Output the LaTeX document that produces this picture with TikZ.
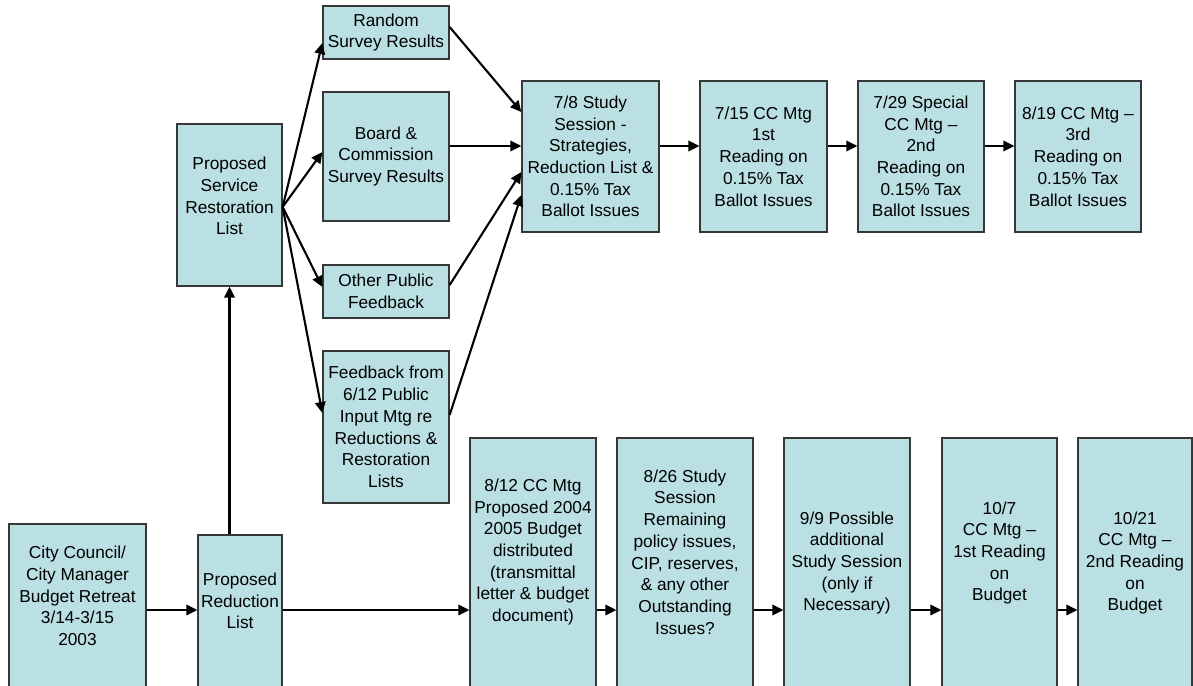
\documentclass[tikz,border=0pt]{standalone}
\usepackage{fontspec}
\setmainfont{Liberation Sans}
\usetikzlibrary{arrows.meta}
\definecolor{boxfill}{RGB}{186,224,227}
\definecolor{boxline}{RGB}{55,55,55}
\begin{document}
\begin{tikzpicture}[x=1pt,y=-1pt,
  box/.style={draw=boxline, line width=1.3pt, fill=boxfill, inner sep=0pt, align=center,
    font=\fontsize{17.3}{21.7}\selectfont},
  txt/.style={inner sep=0pt, align=center, font=\fontsize{17.3}{21.7}\selectfont},
  conn/.style={draw=black, line width=2.1pt, -{Triangle[length=11pt,width=10.5pt]}}]
\useasboundingbox (0,0) rectangle (1193,685);
\clip (0,0) rectangle (1193,685);
\coordinate (botrow) at (0,610);
\coordinate (toprow) at (0,146);

% left / middle column
\node[box, minimum width=126pt, minimum height=53pt] (random) at (386,32.5) {Random\\Survey Results};
\node[box, minimum width=126pt, minimum height=129pt] (board) at (386,156.5) {Board \&\\Commission\\Survey Results};
\node[box, minimum width=126pt, minimum height=53pt] (other) at (386,291.5) {Other Public\\Feedback};
\node[box, minimum width=126pt, minimum height=152pt] (feedback) at (386,427) {Feedback from\\6/12 Public\\Input Mtg re\\Reductions \&\\Restoration\\Lists};
\node[box, minimum width=105pt, minimum height=162pt] (restoration) at (229.5,205) {};
\node[txt] (restorationtxt) at (229.5,196) {Proposed\\Service\\Restoration\\List};

\node[box, minimum width=137pt, minimum height=196pt] (retreat) at (77.5,622) {};
\node[txt] (retreattxt) at (77.5,596) {City Council/\\City Manager\\Budget Retreat\\3/14-3/15\\2003};
\node[box, minimum width=84pt, minimum height=185pt] (reduction) at (240,627.5) {};
\node[txt] (reductiontxt) at (240,601) {Proposed\\Reduction\\List};

% top row
\node[box, minimum width=137pt, minimum height=151pt] (study78) at (590.5,156.5) {7/8 Study\\Session -\\Strategies,\\Reduction List \&\\0.15\% Tax\\Ballot Issues};
\node[box, minimum width=127pt, minimum height=151pt] (cc715) at (763.5,156.5) {7/15 CC Mtg\\1st\\Reading on\\0.15\% Tax\\Ballot Issues};
\node[box, minimum width=126pt, minimum height=151pt] (cc729) at (921,156.5) {7/29 Special\\CC Mtg --\\2nd\\Reading on\\0.15\% Tax\\Ballot Issues};
\node[box, minimum width=126pt, minimum height=151pt] (cc819) at (1078,156.5) {8/19 CC Mtg --\\3rd\\Reading on\\0.15\% Tax\\Ballot Issues};

% bottom row
\node[box, minimum width=126pt, minimum height=282pt] (cc812) at (533,579) {};
\node[txt] (cc812txt) at (533,552) {8/12 CC Mtg\\Proposed 2004\\2005 Budget\\distributed\\(transmittal\\letter \& budget\\document)};
\node[box, minimum width=136pt, minimum height=282pt] (ss826) at (685,579) {};
\node[txt] (ss826txt) at (685,552) {8/26 Study\\Session\\Remaining\\policy issues,\\CIP, reserves,\\\& any other\\Outstanding\\Issues?};
\node[box, minimum width=126pt, minimum height=282pt] (ss99) at (847,579) {};
\node[txt] (ss99txt) at (847,563) {9/9 Possible\\additional\\Study Session\\(only if\\Necessary)};
\node[box, minimum width=115pt, minimum height=282pt] (cc107) at (999.5,579) {};
\node[txt] (cc107txt) at (999.5,553) {10/7\\CC Mtg --\\1st Reading\\on\\Budget};
\node[box, minimum width=114pt, minimum height=282pt] (cc1021) at (1135,579) {};
\node[txt] (cc1021txt) at (1135,563) {10/21\\CC Mtg --\\2nd Reading\\on\\Budget};

% connectors bottom row
\draw[conn] (retreat.east |- botrow) -- (reduction.west |- botrow);
\draw[conn] (reduction.north -| restoration.south) -- (restoration.south);
\draw[conn] (reduction.east |- botrow) -- (cc812.west |- botrow);
\draw[conn] (cc812.east |- botrow) -- (ss826.west |- botrow);
\draw[conn] (ss826.east |- botrow) -- (ss99.west |- botrow);
\draw[conn] (ss99.east |- botrow) -- (cc107.west |- botrow);
\draw[conn] (cc107.east |- botrow) -- (cc1021.west |- botrow);

% fan out
\draw[conn] ([yshift=-2pt]restoration.east) -- ([yshift=-10.5pt]random.west);
\draw[conn] ([yshift=-2pt]restoration.east) -- ([yshift=4.5pt]board.west);
\draw[conn] ([yshift=-2pt]restoration.east) -- ([yshift=4.5pt]other.west);
\draw[conn] ([yshift=-2pt]restoration.east) -- ([yshift=14pt]feedback.west);

% fan in
\draw[conn] ([yshift=5.5pt]random.east) -- ([yshift=44.5pt]study78.west);
\draw[conn] (board.east |- toprow) -- (study78.west |- toprow);
\draw[conn] ([yshift=6.5pt]other.east) -- ([yshift=-15.5pt]study78.west);
\draw[conn] ([yshift=12pt]feedback.east) -- ([yshift=-38.5pt]study78.west);

% top row
\draw[conn] (study78.east |- toprow) -- (cc715.west |- toprow);
\draw[conn] (cc715.east |- toprow) -- (cc729.west |- toprow);
\draw[conn] (cc729.east |- toprow) -- (cc819.west |- toprow);
\end{tikzpicture}
\end{document}
